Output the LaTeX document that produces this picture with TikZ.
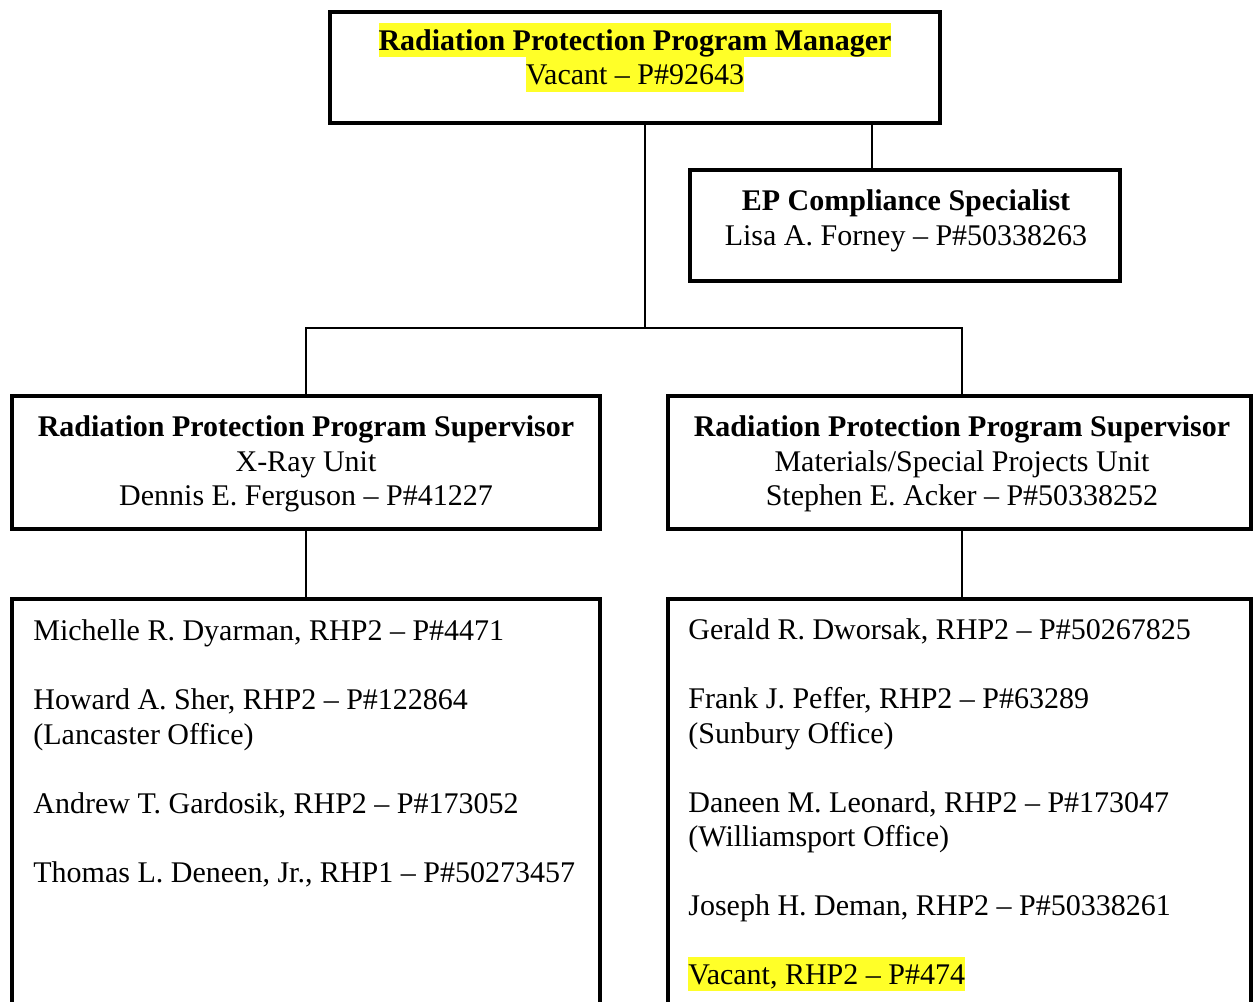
\documentclass[tikz,border=0pt]{standalone}
\usepackage{fontspec}
\setmainfont{Liberation Serif}
\usetikzlibrary{positioning}
\definecolor{hlyellow}{RGB}{255,255,40}
\newcommand{\rs}{\rule[-3.4pt]{0pt}{17.2pt}}
\newcommand{\hl}[1]{{\setlength{\fboxsep}{0pt}\colorbox{hlyellow}{\rs#1}}}
\tikzset{
	box/.style={draw, line width=2pt, inner sep=0pt},
	lbl/.style={inner sep=0pt, anchor=north, align=center, execute at begin node=\rs},
	lst/.style={inner sep=0pt, anchor=north west, align=left, execute at begin node=\rs},
	link/.style={line width=0.8pt}
}
\begin{document}
\begin{tikzpicture}[x=0.5pt,y=-0.5pt,font=\fontsize{15}{17.25}\selectfont,line join=miter]
		\clip (0,0) rectangle (1255,1002);
		% boxes
		\node[box,minimum width=305pt,minimum height=55.5pt] (mgr) at (635,67.5) {};
		\node[box,minimum width=215pt,minimum height=55.5pt] (spec) at (905,225.5) {};
		\node[box,minimum width=294pt,minimum height=66.5pt] (supx) at (306,462.5) {};
		\node[box,minimum width=291.5pt,minimum height=66.5pt] (supm) at (959.5,462.5) {};
		\node[box,minimum width=294pt,minimum height=251pt] (staffx) at (306,850) {};
		\node[box,minimum width=291.5pt,minimum height=251pt] (staffm) at (959.5,850) {};
		% connectors
		\coordinate (bus) at (645,328);
		\coordinate (tap) at (872,150);
		\coordinate (drop) at (962,500);
		\draw[link] (mgr.south -| bus)--(bus);
		\draw[link] (supx.north) |- (bus) -| (supm.north -| drop);
		\draw[link] (mgr.south -| tap)--(spec.north -| tap);
		\draw[link] (supx)--(staffx) (supm.south -| drop)--(staffm.north -| drop);
		% texts
		\node[lbl] (mgrtxt) at (635,22.4) {\textbf{\hl{Radiation Protection Program Manager}}\\\hl{Vacant -- P\#92643}};
		\node[lbl] (spectxt) at (906,189.4) {\textbf{EP Compliance Specialist}\\Lisa A. Forney -- P\#50338263};
		\node[lbl] (supxtxt) at (306,415.4) {\textbf{Radiation Protection Program Supervisor}\\X-Ray Unit\\Dennis E. Ferguson -- P\#41227};
		\node[lbl] (supmtxt) at (962,415.4) {\textbf{Radiation Protection Program Supervisor}\\Materials/Special Projects Unit\\Stephen E. Acker -- P\#50338252};
		\node[lst] (staffxtxt) at (33,619.4) {Michelle R. Dyarman, RHP2 -- P\#4471\\[17.25pt]
			Howard A. Sher, RHP2 -- P\#122864\\(Lancaster Office)\\[17.25pt]
			Andrew T. Gardosik, RHP2 -- P\#173052\\[17.25pt]
			Thomas L. Deneen, Jr., RHP1 -- P\#50273457};
		\node[lst] (staffmtxt) at (688,618.4) {Gerald R. Dworsak, RHP2 -- P\#50267825\\[17.25pt]
			Frank J. Peffer, RHP2 -- P\#63289\\(Sunbury Office)\\[17.25pt]
			Daneen M. Leonard, RHP2 -- P\#173047\\(Williamsport Office)\\[17.25pt]
			Joseph H. Deman, RHP2 -- P\#50338261\\[17.25pt]
			\hl{Vacant, RHP2 -- P\#474}};
\end{tikzpicture}
\end{document}
